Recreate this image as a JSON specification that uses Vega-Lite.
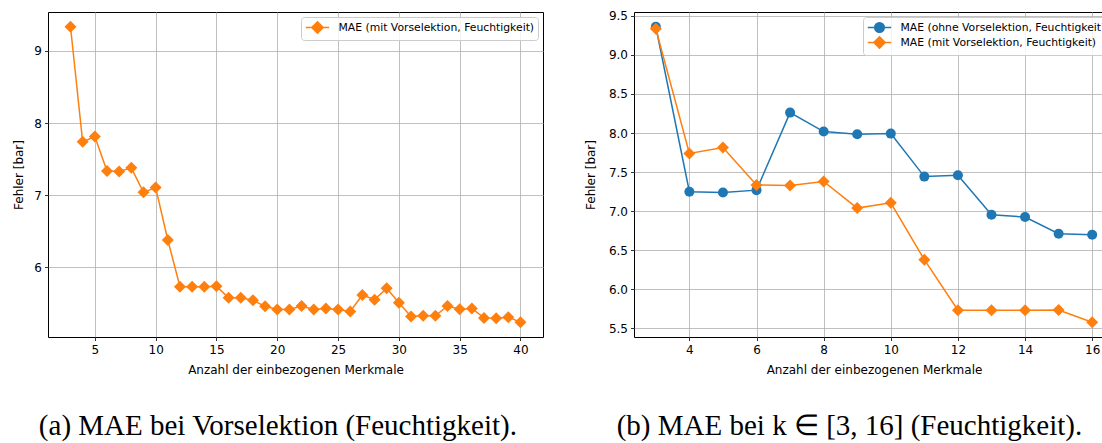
{
  "$schema": "https://vega.github.io/schema/vega-lite/v6.json",
  "background": "white",
  "padding": {"left": 12, "top": 9, "right": 0, "bottom": 0},
  "bounds": "flush",
  "spacing": 91,
  "resolve": {"scale": {"color": "independent"}, "legend": {"color": "independent"}},
  "datasets": {
    "daten": [
      {"k": 3, "mae": 9.36, "serie": "MAE (ohne Vorselektion, Feuchtigkeit)"},
      {"k": 4, "mae": 7.25, "serie": "MAE (ohne Vorselektion, Feuchtigkeit)"},
      {"k": 5, "mae": 7.24, "serie": "MAE (ohne Vorselektion, Feuchtigkeit)"},
      {"k": 6, "mae": 7.27, "serie": "MAE (ohne Vorselektion, Feuchtigkeit)"},
      {"k": 7, "mae": 8.262, "serie": "MAE (ohne Vorselektion, Feuchtigkeit)"},
      {"k": 8, "mae": 8.019, "serie": "MAE (ohne Vorselektion, Feuchtigkeit)"},
      {"k": 9, "mae": 7.985, "serie": "MAE (ohne Vorselektion, Feuchtigkeit)"},
      {"k": 10, "mae": 7.993, "serie": "MAE (ohne Vorselektion, Feuchtigkeit)"},
      {"k": 11, "mae": 7.443, "serie": "MAE (ohne Vorselektion, Feuchtigkeit)"},
      {"k": 12, "mae": 7.46, "serie": "MAE (ohne Vorselektion, Feuchtigkeit)"},
      {"k": 13, "mae": 6.956, "serie": "MAE (ohne Vorselektion, Feuchtigkeit)"},
      {"k": 14, "mae": 6.926, "serie": "MAE (ohne Vorselektion, Feuchtigkeit)"},
      {"k": 15, "mae": 6.713, "serie": "MAE (ohne Vorselektion, Feuchtigkeit)"},
      {"k": 16, "mae": 6.70, "serie": "MAE (ohne Vorselektion, Feuchtigkeit)"},
      {"k": 3, "mae": 9.335, "serie": "MAE (mit Vorselektion, Feuchtigkeit)"},
      {"k": 4, "mae": 7.74, "serie": "MAE (mit Vorselektion, Feuchtigkeit)"},
      {"k": 5, "mae": 7.815, "serie": "MAE (mit Vorselektion, Feuchtigkeit)"},
      {"k": 6, "mae": 7.336, "serie": "MAE (mit Vorselektion, Feuchtigkeit)"},
      {"k": 7, "mae": 7.33, "serie": "MAE (mit Vorselektion, Feuchtigkeit)"},
      {"k": 8, "mae": 7.38, "serie": "MAE (mit Vorselektion, Feuchtigkeit)"},
      {"k": 9, "mae": 7.04, "serie": "MAE (mit Vorselektion, Feuchtigkeit)"},
      {"k": 10, "mae": 7.108, "serie": "MAE (mit Vorselektion, Feuchtigkeit)"},
      {"k": 11, "mae": 6.38, "serie": "MAE (mit Vorselektion, Feuchtigkeit)"},
      {"k": 12, "mae": 5.733, "serie": "MAE (mit Vorselektion, Feuchtigkeit)"},
      {"k": 13, "mae": 5.733, "serie": "MAE (mit Vorselektion, Feuchtigkeit)"},
      {"k": 14, "mae": 5.733, "serie": "MAE (mit Vorselektion, Feuchtigkeit)"},
      {"k": 15, "mae": 5.737, "serie": "MAE (mit Vorselektion, Feuchtigkeit)"},
      {"k": 16, "mae": 5.58, "serie": "MAE (mit Vorselektion, Feuchtigkeit)"},
      {"k": 17, "mae": 5.58, "serie": "MAE (mit Vorselektion, Feuchtigkeit)"},
      {"k": 18, "mae": 5.544, "serie": "MAE (mit Vorselektion, Feuchtigkeit)"},
      {"k": 19, "mae": 5.46, "serie": "MAE (mit Vorselektion, Feuchtigkeit)"},
      {"k": 20, "mae": 5.415, "serie": "MAE (mit Vorselektion, Feuchtigkeit)"},
      {"k": 21, "mae": 5.415, "serie": "MAE (mit Vorselektion, Feuchtigkeit)"},
      {"k": 22, "mae": 5.465, "serie": "MAE (mit Vorselektion, Feuchtigkeit)"},
      {"k": 23, "mae": 5.415, "serie": "MAE (mit Vorselektion, Feuchtigkeit)"},
      {"k": 24, "mae": 5.43, "serie": "MAE (mit Vorselektion, Feuchtigkeit)"},
      {"k": 25, "mae": 5.415, "serie": "MAE (mit Vorselektion, Feuchtigkeit)"},
      {"k": 26, "mae": 5.39, "serie": "MAE (mit Vorselektion, Feuchtigkeit)"},
      {"k": 27, "mae": 5.617, "serie": "MAE (mit Vorselektion, Feuchtigkeit)"},
      {"k": 28, "mae": 5.553, "serie": "MAE (mit Vorselektion, Feuchtigkeit)"},
      {"k": 29, "mae": 5.71, "serie": "MAE (mit Vorselektion, Feuchtigkeit)"},
      {"k": 30, "mae": 5.51, "serie": "MAE (mit Vorselektion, Feuchtigkeit)"},
      {"k": 31, "mae": 5.32, "serie": "MAE (mit Vorselektion, Feuchtigkeit)"},
      {"k": 32, "mae": 5.33, "serie": "MAE (mit Vorselektion, Feuchtigkeit)"},
      {"k": 33, "mae": 5.33, "serie": "MAE (mit Vorselektion, Feuchtigkeit)"},
      {"k": 34, "mae": 5.465, "serie": "MAE (mit Vorselektion, Feuchtigkeit)"},
      {"k": 35, "mae": 5.42, "serie": "MAE (mit Vorselektion, Feuchtigkeit)"},
      {"k": 36, "mae": 5.43, "serie": "MAE (mit Vorselektion, Feuchtigkeit)"},
      {"k": 37, "mae": 5.30, "serie": "MAE (mit Vorselektion, Feuchtigkeit)"},
      {"k": 38, "mae": 5.295, "serie": "MAE (mit Vorselektion, Feuchtigkeit)"},
      {"k": 39, "mae": 5.31, "serie": "MAE (mit Vorselektion, Feuchtigkeit)"},
      {"k": 40, "mae": 5.24, "serie": "MAE (mit Vorselektion, Feuchtigkeit)"}
    ]
  },
  "hconcat": [
    {
      "width": 495,
      "height": 325,
      "data": {"name": "daten"},
      "transform": [{"filter": "datum.serie == 'MAE (mit Vorselektion, Feuchtigkeit)'"}],
      "title": {"text": "(a) MAE bei Vorselektion (Feuchtigkeit)."},
      "encoding": {
        "x": {"field": "k", "type": "quantitative",
              "scale": {"domain": [1.15, 41.85], "nice": false, "zero": false},
              "axis": {"values": [5, 10, 15, 20, 25, 30, 35, 40], "title": "Anzahl der einbezogenen Merkmale"}},
        "y": {"field": "mae", "type": "quantitative",
              "scale": {"domain": [5.035, 9.54], "nice": false, "zero": false},
              "axis": {"values": [6, 7, 8, 9], "title": "Fehler [bar]"}},
        "color": {"field": "serie", "type": "nominal",
                  "scale": {"domain": ["MAE (mit Vorselektion, Feuchtigkeit)"], "range": ["#ff7f0e"]},
                  "legend": {"orient": "top-right"}}
      },
      "layer": [
        {"mark": {"type": "line", "strokeWidth": 1.5}},
        {"mark": {"type": "point", "shape": "diamond", "filled": true, "size": 144, "opacity": 1}}
      ]
    },
    {
      "width": 480,
      "height": 325,
      "data": {"name": "daten"},
      "transform": [{"filter": "datum.k <= 16"}],
      "title": {"text": "(b) MAE bei k ∈ [3, 16] (Feuchtigkeit)."},
      "encoding": {
        "x": {"field": "k", "type": "quantitative",
              "scale": {"domain": [2.35, 16.65], "nice": false, "zero": false},
              "axis": {"values": [4, 6, 8, 10, 12, 14, 16], "title": "Anzahl der einbezogenen Merkmale"}},
        "y": {"field": "mae", "type": "quantitative",
              "scale": {"domain": [5.391, 9.549], "nice": false, "zero": false},
              "axis": {"values": [5.5, 6, 6.5, 7, 7.5, 8, 8.5, 9, 9.5], "format": ".1f", "title": "Fehler [bar]", "titlePadding": 10.5}},
        "color": {"field": "serie", "type": "nominal",
                  "scale": {"domain": ["MAE (ohne Vorselektion, Feuchtigkeit)", "MAE (mit Vorselektion, Feuchtigkeit)"], "range": ["#1f77b4", "#ff7f0e"]},
                  "legend": {
                    "orient": "top-right",
                    "encode": {
                      "symbols": {
                        "update": {
                          "shape": {"signal": "datum.value == 'MAE (ohne Vorselektion, Feuchtigkeit)' ? 'M-1.95,0H1.95M-0.8,0A0.8,0.8,0,1,0,0.8,0A0.8,0.8,0,1,0,-0.8,0Z' : 'M-1.95,0H1.95M0,-0.95L0.95,0L0,0.95L-0.95,0Z'"},
                          "fill": {"signal": "datum.value == 'MAE (ohne Vorselektion, Feuchtigkeit)' ? '#1f77b4' : '#ff7f0e'"},
                          "stroke": {"signal": "datum.value == 'MAE (ohne Vorselektion, Feuchtigkeit)' ? '#1f77b4' : '#ff7f0e'"}
                        }
                      }
                    }
                  }}
      },
      "layer": [
        {"mark": {"type": "line", "strokeWidth": 1.5}},
        {"transform": [{"filter": "datum.serie == 'MAE (ohne Vorselektion, Feuchtigkeit)'"}],
         "mark": {"type": "point", "shape": "circle", "filled": true, "size": 100, "opacity": 1}},
        {"transform": [{"filter": "datum.serie == 'MAE (mit Vorselektion, Feuchtigkeit)'"}],
         "mark": {"type": "point", "shape": "diamond", "filled": true, "size": 144, "opacity": 1}}
      ]
    }
  ],
  "config": {
    "view": {"stroke": "black", "strokeWidth": 1},
    "axis": {
      "grid": true, "gridColor": "#b0b0b0", "gridWidth": 0.8, "gridOpacity": 1,
      "domain": false,
      "tickColor": "black", "tickSize": 3.5, "tickWidth": 0.8,
      "labelFont": "DejaVu Sans", "labelFontSize": 12, "labelColor": "black", "labelPadding": 3, "labelOverlap": false,
      "titleFont": "DejaVu Sans", "titleFontSize": 12, "titleFontWeight": "normal", "titleColor": "black"
    },
    "axisX": {"titlePadding": 9, "labelPadding": 4},
    "axisY": {"titlePadding": 8},
    "title": {"orient": "bottom", "anchor": "middle", "frame": "bounds", "font": "Liberation Serif", "fontSize": 29, "fontWeight": "normal", "color": "black", "offset": 36},
    "legend": {
      "title": null,
      "offset": 5,
      "padding": 3.5,
      "fillColor": "rgba(255,255,255,0.8)",
      "strokeColor": "#cccccc",
      "cornerRadius": 3,
      "labelFont": "DejaVu Sans",
      "labelFontSize": 10.8,
      "labelColor": "black",
      "labelOffset": 14,
      "labelLimit": 400,
      "symbolSize": 144,
      "symbolOffset": 6,
      "symbolStrokeWidth": 1.5,
      "rowPadding": -2,
      "symbolType": "M-1.95,0H1.95M0,-0.95L0.95,0L0,0.95L-0.95,0Z",
      "symbolOpacity": 1
    }
  }
}
